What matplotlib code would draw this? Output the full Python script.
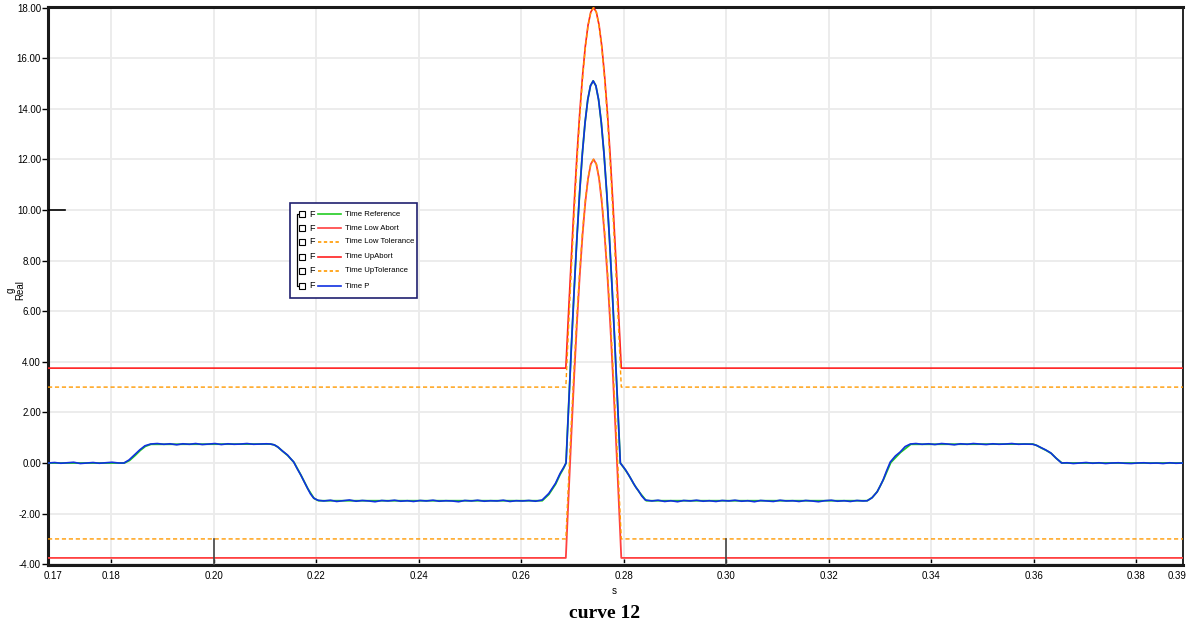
import matplotlib
matplotlib.use('Agg')
import matplotlib.pyplot as plt
from matplotlib.patches import Rectangle

plt.rcParams['font.family'] = ['Liberation Sans Narrow', 'Liberation Sans', 'DejaVu Sans']

# limits (shared time base)
t_lim = [0.1677, 0.26871, 0.26925, 0.26979, 0.27033, 0.27087, 0.27142, 0.27196, 0.27250,
         0.27304, 0.27358, 0.27412, 0.27466, 0.27520, 0.27574, 0.27628, 0.27683, 0.27737,
         0.27791, 0.27845, 0.27899, 0.27953, 0.3891]
up_abort = [3.75, 3.75, 5.98, 8.15, 10.22, 12.13, 13.83, 15.28, 16.45, 17.30, 17.82, 18.00,
            17.82, 17.30, 16.45, 15.28, 13.83, 12.13, 10.22, 8.15, 5.98, 3.75, 3.75]
up_tol = [3.00, 3.00, 5.35, 7.64, 9.81, 11.82, 13.61, 15.14, 16.37, 17.27, 17.82, 18.00,
          17.82, 17.27, 16.37, 15.14, 13.61, 11.82, 9.81, 7.64, 5.35, 3.00, 3.00]
low_abort = [-3.75, -3.75, -1.29, 1.12, 3.40, 5.51, 7.39, 8.99, 10.28, 11.23, 11.81, 12.00,
             11.81, 11.23, 10.28, 8.99, 7.39, 5.51, 3.40, 1.12, -1.29, -3.75, -3.75]
low_tol = [-3.00, -3.00, -0.65, 1.64, 3.81, 5.82, 7.61, 9.14, 10.37, 11.27, 11.82, 12.00,
           11.82, 11.27, 10.37, 9.14, 7.61, 5.82, 3.81, 1.64, -0.65, -3.00, -3.00]

# measured signal (Time P)
t_p = [0.1677, 0.1690, 0.1702, 0.1715, 0.1727, 0.1740, 0.1752, 0.1765, 0.1777, 0.1790, 0.1802, 0.1815, 0.1825,
       0.1835, 0.1846, 0.1856, 0.1866, 0.1877,
       0.1890, 0.1903, 0.1915, 0.1928, 0.1940, 0.1953, 0.1965, 0.1978, 0.1990, 0.2003, 0.2015, 0.2028,
       0.2040, 0.2053, 0.2065, 0.2078, 0.2090, 0.2103, 0.2111,
       0.2118, 0.2125, 0.2134, 0.2144, 0.2150, 0.2156, 0.2163, 0.2170, 0.2177, 0.2183, 0.2189, 0.2195, 0.2203,
       0.2215, 0.2228, 0.2240, 0.2253, 0.2265, 0.2278, 0.2290, 0.2303, 0.2315, 0.2328, 0.2340, 0.2353,
       0.2365, 0.2378, 0.2390, 0.2403, 0.2415, 0.2428, 0.2440, 0.2453, 0.2465, 0.2478, 0.2490, 0.2503,
       0.2515, 0.2528, 0.2540, 0.2553, 0.2565, 0.2578, 0.2590, 0.2603, 0.2615, 0.2628, 0.2641,
       0.2654, 0.2667, 0.2676, 0.2683, 0.26875,
       0.26928, 0.26981, 0.27034, 0.27087, 0.27140, 0.27193, 0.27246, 0.27299, 0.27352, 0.27405,
       0.27457, 0.27510, 0.27563, 0.27616, 0.27669, 0.27722, 0.27775, 0.27828, 0.27881, 0.27934,
       0.2799, 0.2804, 0.2809, 0.2814, 0.2819, 0.2824, 0.2829, 0.2835, 0.2842,
       0.2855, 0.2867, 0.2880, 0.2892, 0.2905, 0.2917, 0.2930, 0.2942, 0.2955, 0.2967, 0.2980, 0.2992,
       0.3005, 0.3017, 0.3030, 0.3042, 0.3055, 0.3067, 0.3080, 0.3092, 0.3105, 0.3117, 0.3130, 0.3142,
       0.3155, 0.3167, 0.3180, 0.3192, 0.3205, 0.3217, 0.3230, 0.3242, 0.3255, 0.3267, 0.3275,
       0.3284, 0.3294, 0.3300, 0.3306, 0.3313, 0.3320, 0.3330, 0.3339, 0.3349, 0.3359,
       0.3370, 0.3382, 0.3395, 0.3407, 0.3420, 0.3432, 0.3445, 0.3457, 0.3470, 0.3482, 0.3495, 0.3507,
       0.3520, 0.3532, 0.3545, 0.3557, 0.3570, 0.3582, 0.3598,
       0.3605, 0.3613, 0.3623, 0.3633, 0.3643, 0.3654,
       0.3665, 0.3677, 0.3690, 0.3702, 0.3715, 0.3727, 0.3740, 0.3752, 0.3765, 0.3777, 0.3790, 0.3802,
       0.3815, 0.3827, 0.3840, 0.3852, 0.3865, 0.3877, 0.3891]
v_p = [0.00, 0.02, -0.01, 0.01, 0.03, -0.02, 0.00, 0.02, -0.01, 0.01, 0.03, 0.00, 0.00,
       0.12, 0.33, 0.52, 0.68, 0.75,
       0.77, 0.74, 0.76, 0.72, 0.76, 0.74, 0.77, 0.73, 0.75, 0.77, 0.73, 0.76,
       0.74, 0.75, 0.77, 0.74, 0.75, 0.76, 0.75,
       0.72, 0.64, 0.48, 0.32, 0.18, 0.05, -0.22, -0.47, -0.75, -0.99, -1.22, -1.38, -1.47,
       -1.50, -1.47, -1.52, -1.49, -1.46, -1.51, -1.48, -1.50, -1.53, -1.48, -1.50, -1.47,
       -1.51, -1.49, -1.52, -1.48, -1.50, -1.47, -1.51, -1.49, -1.50, -1.53, -1.48, -1.50,
       -1.47, -1.51, -1.49, -1.50, -1.47, -1.52, -1.49, -1.50, -1.48, -1.51, -1.46,
       -1.20, -0.80, -0.41, -0.17, 0.00,
       2.36, 4.67, 6.86, 8.88, 10.68, 12.22, 13.45, 14.36, 14.91, 15.10,
       14.91, 14.36, 13.45, 12.22, 10.68, 8.88, 6.86, 4.67, 2.36, 0.00,
       -0.15, -0.28, -0.45, -0.62, -0.80, -0.97, -1.10, -1.30, -1.46,
       -1.50, -1.47, -1.52, -1.49, -1.53, -1.48, -1.50, -1.47, -1.51, -1.49, -1.52, -1.48,
       -1.50, -1.47, -1.51, -1.49, -1.53, -1.48, -1.50, -1.52, -1.47, -1.50, -1.49, -1.52,
       -1.48, -1.50, -1.53, -1.49, -1.47, -1.51, -1.49, -1.52, -1.48, -1.50, -1.49,
       -1.38, -1.15, -0.92, -0.67, -0.30, 0.04, 0.28, 0.43, 0.65, 0.75,
       0.77, 0.74, 0.76, 0.73, 0.77, 0.75, 0.72, 0.76, 0.74, 0.77, 0.75, 0.73,
       0.76, 0.74, 0.75, 0.77, 0.74, 0.75, 0.74,
       0.70, 0.62, 0.52, 0.40, 0.20, 0.00,
       0.01, -0.02, 0.00, 0.02, -0.01, 0.01, -0.02, 0.00, 0.01, -0.01, -0.02, 0.00,
       0.01, -0.01, 0.00, -0.02, 0.01, -0.01, 0.00]

# reference signal (Time Reference)
t_ref = [0.1677, 0.1826, 0.1836, 0.1847, 0.1857, 0.1867, 0.1878, 0.2111, 0.2119, 0.2126, 0.2135, 0.2145,
         0.2157, 0.2171, 0.2184, 0.2196, 0.2205, 0.2641, 0.2654, 0.2667, 0.2676, 0.2683, 0.26875,
         0.26928, 0.26981, 0.27034, 0.27087, 0.27140, 0.27193, 0.27246, 0.27299, 0.27352, 0.27405,
         0.27457, 0.27510, 0.27563, 0.27616, 0.27669, 0.27722, 0.27775, 0.27828, 0.27881, 0.27934,
         0.2800, 0.2810, 0.2820, 0.2830, 0.2844, 0.3275, 0.3285, 0.3295,
         0.3307, 0.3321, 0.3340, 0.3360, 0.3598, 0.3606, 0.3614, 0.3624, 0.3634, 0.3644, 0.3655, 0.3891]
v_ref = [0.00, 0.00, 0.10, 0.30, 0.50, 0.66, 0.74, 0.75, 0.71, 0.62, 0.46, 0.29,
         0.02, -0.50, -1.02, -1.40, -1.49, -1.49, -1.24, -0.84, -0.45, -0.20, 0.00,
         2.36, 4.67, 6.86, 8.88, 10.68, 12.22, 13.45, 14.36, 14.91, 15.10,
         14.91, 14.36, 13.45, 12.22, 10.68, 8.88, 6.86, 4.67, 2.36, 0.00,
         -0.18, -0.48, -0.84, -1.14, -1.49, -1.49, -1.36, -1.12,
         -0.64, 0.02, 0.42, 0.74, 0.75, 0.69, 0.60, 0.50, 0.38, 0.18, 0.00, 0.00]

x_major = [0.18, 0.20, 0.22, 0.24, 0.26, 0.28, 0.30, 0.32, 0.34, 0.36, 0.38]
x_edge = [0.1687, 0.3879]
x_edge_labels = ['0.17', '0.39']
y_ticks = [-4, -2, 0, 2, 4, 6, 8, 10, 12, 14, 16, 18]

legend_names = ['Time Reference', 'Time Low Abort', 'Time Low Tolerance',
                'Time UpAbort', 'Time UpTolerance', 'Time P']
legend_colors = ['#22cc22', '#ff4040', '#ff9900', '#ff2020', '#ff9900', '#1030e0']
legend_styles = ['-', '-', '--', '-', '--', '-']

fig = plt.figure(figsize=(11.86, 6.31), dpi=100)
ax = fig.add_axes([48 / 1186, 1 - 565 / 631, 1135 / 1186, 558 / 631])

ax.plot(t_lim, up_abort, color='#ff2020', lw=1.2, zorder=3)
ax.plot(t_lim, up_tol, color='#ff9900', lw=1.0, ls=(0, (3, 2)), zorder=3)
ax.plot(t_lim, low_abort, color='#ff4040', lw=1.3, zorder=3)
ax.plot(t_lim, low_tol, color='#ff9900', lw=1.0, ls=(0, (3, 2)), zorder=3)
ax.plot(t_ref, v_ref, color='#22cc22', lw=1.3, zorder=4)
ax.plot(t_p, v_p, color='#1030e0', lw=1.2, zorder=5)

ax.set_xlim(0.1677, 0.3891)
ax.set_ylim(-4.03, 18.02)

ax.set_xticks(x_major)
ax.set_xticklabels(['%.2f' % v for v in x_major])
ax.set_xticks(x_edge, minor=True)
ax.set_xticklabels(x_edge_labels, minor=True)
ax.set_yticks(y_ticks)
ax.set_yticklabels(['%.2f' % v for v in y_ticks])
ax.tick_params(axis='x', which='major', direction='in', length=4, width=1, labelsize=7, pad=4)
ax.tick_params(axis='x', which='minor', length=0, labelsize=7, pad=4)
ax.tick_params(axis='y', direction='out', length=4, width=1, labelsize=7, pad=1)

ax.grid(True, which='major', color='#ebebeb', lw=1.3)
ax.set_axisbelow(True)

for side in ['left', 'bottom', 'top']:
    ax.spines[side].set_linewidth(2.2)
    ax.spines[side].set_color('#1a1a1a')
ax.spines['right'].set_linewidth(1.2)
ax.spines['right'].set_color('black')

# long marker ticks
for xv in [0.20, 0.30]:
    ax.axvline(xv, ymin=0, ymax=26 / 558, color='#444444', lw=1.2, zorder=6)
ax.axhline(10, xmin=0, xmax=17 / 1135, color='black', lw=1.2, zorder=6)

# legend drawn by hand
ax.add_patch(Rectangle((0.2132, 0.4785), 0.1119, 0.1702, transform=ax.transAxes,
                       facecolor='white', edgecolor='#202070', lw=1.2, zorder=10))
rows = [0.6290, 0.6039, 0.5789, 0.5520, 0.5269, 0.5000]
ax.plot([0.2238, 0.2190, 0.2190, 0.2238], [rows[0], rows[0], rows[-1], rows[-1]],
        transform=ax.transAxes, color='black', lw=0.9, zorder=11)
for yy, name, col, ls in zip(rows, legend_names, legend_colors, legend_styles):
    ax.plot([0.2238], [yy], transform=ax.transAxes, marker='s', ms=5, mfc='white',
            mec='black', mew=0.8, zorder=12)
    ax.text(0.2305, yy, 'F', transform=ax.transAxes, fontsize=6.5, va='center', zorder=12)
    ax.plot([0.2379, 0.2581], [yy, yy], transform=ax.transAxes, color=col,
            ls=(0, (2, 1.5)) if ls == '--' else '-', lw=1.2, zorder=12)
    ax.text(0.2620, yy, name, transform=ax.transAxes, fontsize=5.6, va='center', zorder=12)

fig.text(614 / 1186, 1 - 591 / 631, 's', fontsize=7, ha='center', va='center')
fig.text(11 / 1186, 1 - 290 / 631, 'g', fontsize=7, rotation=90, ha='center', va='center')
fig.text(20 / 1186, 1 - 290 / 631, 'Real', fontsize=7, rotation=90, ha='center', va='center')
fig.text(605 / 1186, 1 - 613 / 631, 'curve 12', fontsize=14, fontweight='bold',
         family=['Liberation Serif', 'DejaVu Serif'], ha='center', va='center')

plt.savefig('out.png', dpi=100)
